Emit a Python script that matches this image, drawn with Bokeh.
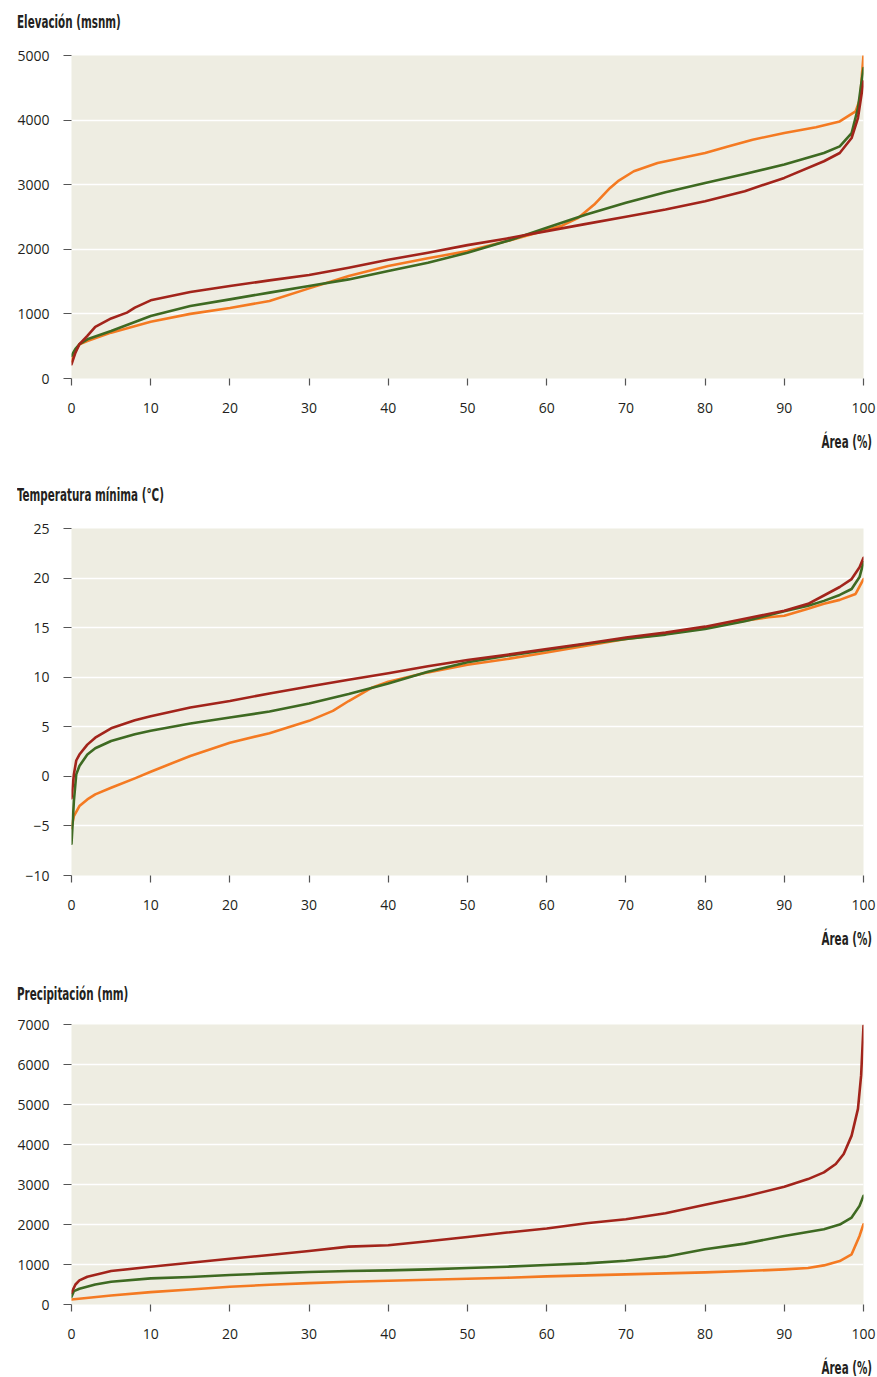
from bokeh.plotting import figure
from bokeh.models import Range1d, SingleIntervalTicker, Div
from bokeh.layouts import column
from bokeh.embed import file_html
from bokeh.resources import INLINE

# ---------------- data ----------------
x_ticks_step = 10
x_label = "Área (%)"

elev_title = "Elevación (msnm)"
elev_x_orange = [0, 0.5, 1, 2, 5, 10, 15, 20, 25, 30, 35, 40, 45, 50, 55, 58, 62, 64, 66, 68, 69, 71, 74, 77, 80, 83, 86, 90, 94, 97, 99, 99.6, 99.8, 100]
elev_orange = [270, 430, 530, 580, 710, 880, 1000, 1090, 1200, 1395, 1586, 1740, 1860, 1972, 2127, 2230, 2370, 2487, 2693, 2950, 3054, 3208, 3337, 3414, 3491, 3594, 3697, 3800, 3888, 3980, 4135, 4340, 4700, 5000]
elev_x_green = [0, 0.5, 1, 2, 5, 10, 15, 20, 25, 30, 35, 40, 45, 50, 55, 60, 65, 70, 75, 80, 85, 90, 95, 97, 98.5, 99.3, 99.7, 100]
elev_green = [350, 460, 530, 607, 736, 968, 1122, 1225, 1329, 1431, 1534, 1663, 1792, 1946, 2127, 2333, 2539, 2719, 2884, 3028, 3167, 3311, 3491, 3594, 3800, 4186, 4547, 4804]
elev_x_red = [0, 0.5, 1, 2, 3, 5, 7, 8, 10, 15, 20, 25, 30, 35, 40, 45, 50, 55, 60, 65, 70, 75, 80, 85, 90, 95, 97, 98.5, 99.3, 100]
elev_red = [221, 400, 530, 659, 800, 930, 1020, 1097, 1210, 1339, 1431, 1519, 1601, 1715, 1838, 1946, 2065, 2168, 2281, 2394, 2503, 2616, 2745, 2899, 3105, 3363, 3491, 3723, 4032, 4598]

tmin_title = "Temperatura mínima (°C)"
tmin_x_orange = [0, 0.3, 1, 2, 3, 5, 8, 10, 15, 20, 25, 30, 33, 35, 38, 40, 45, 50, 55, 60, 65, 70, 75, 80, 85, 88, 90, 93, 95, 97, 99, 100]
tmin_orange = [-5.2, -4.0, -3.0, -2.33, -1.82, -1.15, -0.2, 0.47, 2.06, 3.4, 4.35, 5.6, 6.6, 7.6, 8.97, 9.54, 10.49, 11.26, 11.83, 12.5, 13.18, 13.86, 14.36, 14.97, 15.7, 16.05, 16.2, 16.9, 17.4, 17.8, 18.4, 19.9]
tmin_x_green = [0, 0.3, 0.6, 1, 2, 3, 5, 8, 10, 15, 20, 25, 30, 35, 40, 45, 50, 55, 60, 65, 70, 75, 80, 85, 90, 93, 95, 97, 98.5, 99.5, 100]
tmin_green = [-6.8, -2.5, 0.2, 1.05, 2.2, 2.83, 3.57, 4.25, 4.6, 5.33, 5.93, 6.54, 7.35, 8.3, 9.37, 10.55, 11.5, 12.17, 12.74, 13.35, 13.86, 14.3, 14.87, 15.64, 16.65, 17.2, 17.7, 18.3, 18.9, 20.1, 21.6]
tmin_x_red = [0, 0.3, 0.6, 1, 2, 3, 5, 8, 10, 15, 20, 25, 30, 35, 40, 45, 50, 55, 60, 65, 70, 75, 80, 85, 90, 93, 95, 97, 98.5, 99.5, 100]
tmin_red = [-2.2, 0.2, 1.6, 2.2, 3.2, 3.9, 4.85, 5.66, 6.07, 6.95, 7.6, 8.36, 9.07, 9.74, 10.4, 11.1, 11.73, 12.27, 12.85, 13.4, 14.0, 14.5, 15.1, 15.9, 16.7, 17.4, 18.24, 19.1, 19.9, 21.1, 22.05]

prec_title = "Precipitación (mm)"
prec_x_orange = [0, 5, 10, 15, 20, 25, 30, 35, 40, 45, 50, 55, 60, 65, 70, 75, 80, 85, 90, 93, 95, 97, 98.5, 99.5, 100]
prec_orange = [125, 226, 309, 376, 443, 493, 535, 569, 594, 619, 644, 669, 702, 727, 752, 778, 803, 836, 878, 911, 978, 1087, 1254, 1714, 2007]
prec_x_green = [0, 0.3, 1, 3, 5, 10, 15, 20, 25, 30, 35, 40, 45, 50, 55, 60, 65, 70, 75, 80, 85, 90, 95, 97, 98.5, 99.5, 100]
prec_green = [192, 334, 393, 502, 569, 652, 686, 736, 778, 811, 836, 853, 878, 911, 945, 987, 1028, 1095, 1196, 1380, 1522, 1714, 1881, 1998, 2174, 2466, 2717]
prec_x_red = [0, 0.5, 1, 2, 5, 10, 15, 20, 25, 30, 35, 40, 45, 50, 55, 60, 65, 70, 75, 80, 85, 90, 93, 95, 96.5, 97.5, 98.5, 99.3, 99.7, 100]
prec_red = [293, 500, 602, 694, 836, 945, 1045, 1145, 1237, 1338, 1446, 1480, 1580, 1689, 1798, 1898, 2032, 2132, 2283, 2492, 2700, 2943, 3135, 3302, 3512, 3763, 4222, 4891, 5727, 6965]

# ---------------- style ----------------
ORANGE = "#F47A22"
GREEN = "#3E6A22"
RED = "#A2241B"
BG = "#EEEDE2"
TEXT = "#231F20"
TICK_FONT = "'Open Sans', 'Noto Sans', sans-serif"
HEAD_FONT = "'Liberation Sans Narrow', 'DejaVu Sans Condensed', sans-serif"
WIDTH = 877
BORDER_LEFT = 71
BORDER_RIGHT = 14


def head_div(text, height, pad_top, right=False):
    origin = "right" if right else "left"
    align = "right" if right else "left"
    box_w = WIDTH - 5 if right else WIDTH - 17
    side_pad = "" if right else "padding-left:17px;"
    font = HEAD_FONT.replace(chr(39), "&#39;")
    html = (f'<div style="display:block;box-sizing:content-box;width:{box_w}px;'
            f'padding-top:{pad_top}px;{side_pad}text-align:{align};'
            f'line-height:18px;white-space:nowrap;font-family:{font};'
            f'font-weight:bold;font-size:18px;color:{TEXT};">'
            f'<span style="display:inline-block;transform:scaleX(0.64);'
            f'transform-origin:{origin} center;">{text}</span></div>')
    return Div(text=html, width=WIDTH, height=height, margin=0)


def make_panel(ymin, ymax, ystep, series, height, bt, bb):
    p = figure(width=WIDTH, height=height, output_backend="svg", toolbar_location=None,
               x_range=Range1d(0, 100), y_range=Range1d(ymin, ymax),
               min_border_left=BORDER_LEFT, min_border_right=BORDER_RIGHT,
               min_border_top=bt, min_border_bottom=bb, margin=0)
    p.background_fill_color = BG
    p.border_fill_color = "white"
    p.outline_line_color = None
    p.xgrid.grid_line_color = None
    p.ygrid.grid_line_color = "white"
    p.ygrid.grid_line_width = 1.6

    p.xaxis.ticker = SingleIntervalTicker(interval=x_ticks_step, num_minor_ticks=0)
    p.yaxis.ticker = SingleIntervalTicker(interval=ystep, num_minor_ticks=0)
    for ax in (p.xaxis[0], p.yaxis[0]):
        ax.axis_line_color = None
        ax.major_tick_in = 0
        ax.minor_tick_line_color = None
        ax.major_tick_line_color = "#555555"
        ax.major_tick_line_width = 1.2
        ax.major_label_text_font = TICK_FONT
        ax.major_label_text_font_size = "14px"
        ax.major_label_text_color = TEXT
    p.xaxis.major_tick_out = 7
    p.xaxis.major_label_standoff = 17
    p.yaxis.major_tick_out = 8
    p.yaxis.major_label_standoff = 14

    for xs, ys, color in series:
        p.line(xs, ys, line_color=color, line_width=2.6, line_join="round", line_cap="round")
    return p


p1 = make_panel(0, 5000, 1000,
                [(elev_x_orange, elev_orange, ORANGE), (elev_x_green, elev_green, GREEN),
                 (elev_x_red, elev_red, RED)],
                height=380, bt=10, bb=47)
p2 = make_panel(-10, 25, 5,
                [(tmin_x_orange, tmin_orange, ORANGE), (tmin_x_green, tmin_green, GREEN),
                 (tmin_x_red, tmin_red, RED)],
                height=407, bt=13, bb=47)
p3 = make_panel(0, 7000, 1000,
                [(prec_x_orange, prec_orange, ORANGE), (prec_x_green, prec_green, GREEN),
                 (prec_x_red, prec_red, RED)],
                height=340, bt=13, bb=47)

layout = column(
    head_div(elev_title, 45, 13), p1, head_div(x_label, 35, 8, right=True),
    head_div(tmin_title, 55, 26), p2, head_div(x_label, 35, 8, right=True),
    head_div(prec_title, 54, 28), p3, head_div(x_label, 26, 8, right=True),
    spacing=0,
)
open("out.html", "w").write(file_html(layout, INLINE))
